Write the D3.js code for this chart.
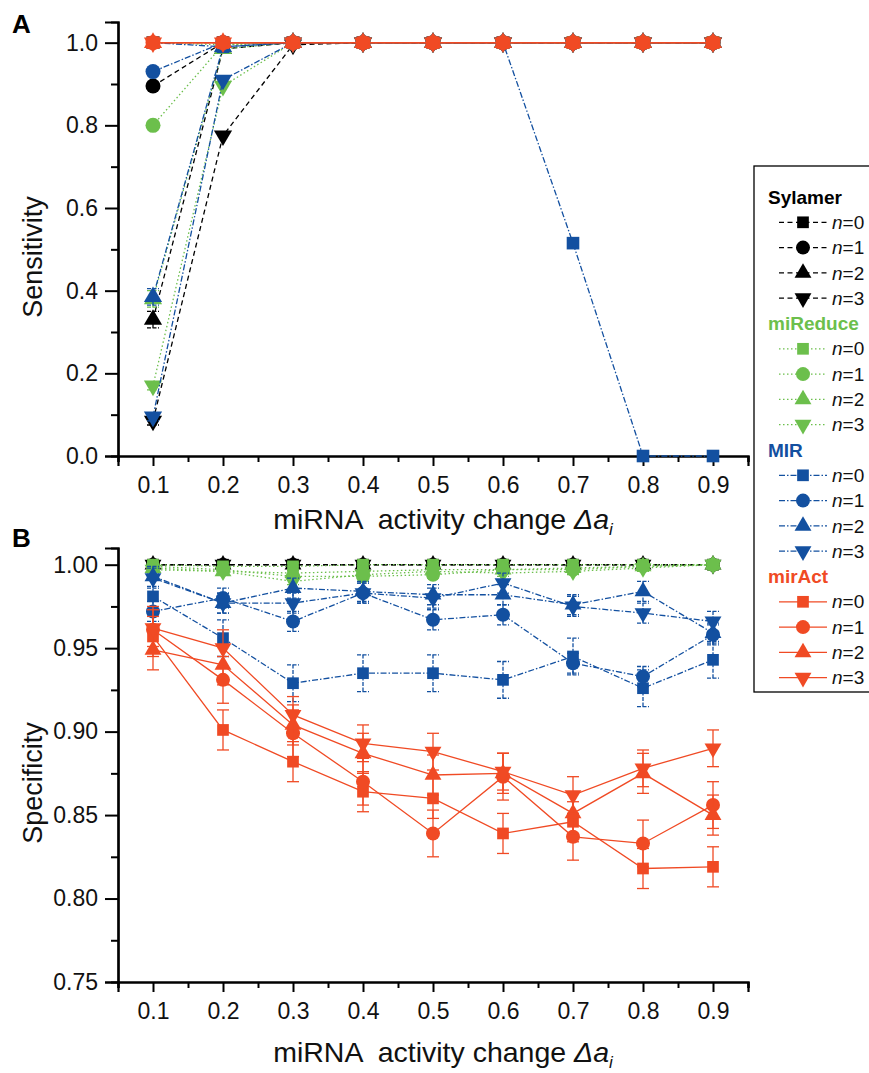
<!DOCTYPE html>
<html>
<head>
<meta charset="utf-8">
<script src="https://cdn.jsdelivr.net/npm/d3@7/dist/d3.min.js"></script>
<style>
body { margin: 0; background: #fff; }
svg { font-family: "Liberation Sans", Arial, sans-serif; }
</style>
</head>
<body>
<script>
// x values (miRNA activity change)
const xValues = [0.1, 0.2, 0.3, 0.4, 0.5, 0.6, 0.7, 0.8, 0.9];
const methods = ["Sylamer", "miReduce", "MIR", "mirAct"];
const nLabels = ["0", "1", "2", "3"];
const methodColors = ["#000000", "#6cbf4c", "#1350a0", "#f04a24"];
const methodDash = ["5,3.5", "1.5,2.5", "6,2,1.5,2", null];
const shapes = ["square", "circle", "triangle", "triangleDown"];

// panel A: sensitivity, one array per n
const sensSylamer = [
    [1, 1, 1, 1, 1, 1, 1, 1, 1],
    [0.895, 1, 1, 1, 1, 1, 1, 1, 1],
    [0.33, 0.985, 1, 1, 1, 1, 1, 1, 1],
    [0.085, 0.775, 0.995, 1, 1, 1, 1, 1, 1]
];
const sensMiReduce = [
    [1, 0.995, 1, 1, 1, 1, 1, 1, 1],
    [0.80, 0.995, 1, 1, 1, 1, 1, 1, 1],
    [0.38, 0.985, 1, 1, 1, 1, 1, 1, 1],
    [0.17, 0.895, 1, 1, 1, 1, 1, 1, 1]
];
const sensMIR = [
    [1, 0.99, 1, 1, 1, 1, 0.515, 0, 0],
    [0.93, 1, 1, 1, 1, 1, 1, 1, 1],
    [0.385, 0.99, 1, 1, 1, 1, 1, 1, 1],
    [0.095, 0.91, 1, 1, 1, 1, 1, 1, 1]
];
const sensMirAct = [
    [1, 1, 1, 1, 1, 1, 1, 1, 1],
    [1, 1, 1, 1, 1, 1, 1, 1, 1],
    [1, 1, 1, 1, 1, 1, 1, 1, 1],
    [1, 1, 1, 1, 1, 1, 1, 1, 1]
];
// sensitivity error bars only show at x = 0.1
const errSensFirst = [
    [0, 0, 0.02, 0.01],
    [0, 0, 0.02, 0.01],
    [0, 0, 0.02, 0.01],
    [0, 0, 0, 0]
];

// panel B: specificity
const specSylamer = [
    [1, 1, 1, 1, 1, 1, 1, 1, 1],
    [1, 1, 1, 1, 1, 1, 1, 1, 1],
    [1, 1, 1, 1, 1, 1, 1, 1, 1],
    [1, 1, 1, 1, 1, 1, 1, 1, 1]
];
const specMiReduce = [
    [1.0, 0.999, 0.999, 1.0, 1.0, 1.0, 1.0, 1.0, 1.0],
    [0.999, 0.997, 0.993, 0.993, 0.994, 0.997, 0.997, 0.999, 1.0],
    [0.998, 0.996, 0.995, 0.996, 0.997, 0.997, 0.998, 0.999, 1.0],
    [0.997, 0.996, 0.990, 0.994, 0.996, 0.995, 0.996, 0.998, 1.0]
];
const specMIR = [
    [0.981, 0.956, 0.929, 0.935, 0.935, 0.931, 0.945, 0.926, 0.943],
    [0.972, 0.980, 0.966, 0.983, 0.967, 0.970, 0.941, 0.933, 0.958],
    [0.993, 0.977, 0.986, 0.984, 0.982, 0.982, 0.976, 0.984, 0.959],
    [0.992, 0.977, 0.977, 0.983, 0.980, 0.989, 0.975, 0.971, 0.966]
];
const specMirAct = [
    [0.957, 0.901, 0.882, 0.864, 0.860, 0.839, 0.846, 0.818, 0.819],
    [0.961, 0.931, 0.899, 0.870, 0.839, 0.873, 0.837, 0.833, 0.856],
    [0.949, 0.940, 0.904, 0.887, 0.874, 0.875, 0.851, 0.875, 0.850],
    [0.962, 0.950, 0.910, 0.893, 0.888, 0.876, 0.862, 0.878, 0.890]
];
// specificity error (same for every point of a series)
const errSpec = [
    [0.001, 0.001, 0.001, 0.001],
    [0.002, 0.002, 0.002, 0.002],
    [0.011, 0.006, 0.006, 0.006],
    [0.012, 0.014, 0.012, 0.011]
];

const sensAll = [sensSylamer, sensMiReduce, sensMIR, sensMirAct];
const specAll = [specSylamer, specMiReduce, specMIR, specMirAct];

const PLOT = { LEFT: 118, RIGHT: 748 };
const WIDTH = 869, HEIGHT = 1073;

var svg = d3.select("body").append("svg")
    .attr("width", WIDTH)
    .attr("height", HEIGHT);

const x = d3.scaleLinear().domain([0.05, 0.95]).range([PLOT.LEFT, PLOT.RIGHT]);

function markerPath(shape, s) {
    if (shape === "square") {
        let q = s * 0.9;
        return `M${-q/2},${-q/2}h${q}v${q}h${-q}Z`;
    }
    if (shape === "circle") {
        let r = s / 2 + 0.5;
        return `M${r},0A${r},${r} 0 1,1 ${-r},0A${r},${r} 0 1,1 ${r},0Z`;
    }
    let w = s * 1.3, h = s * 1.12;
    if (shape === "triangle") {
        return `M0,${-h*2/3}L${w/2},${h/3}L${-w/2},${h/3}Z`;
    }
    return `M0,${h*2/3}L${w/2},${-h/3}L${-w/2},${-h/3}Z`;
}

function drawPanel(cfg) {
    const y = d3.scaleLinear().domain(cfg.yDomain).range([cfg.bottom, cfg.top]);
    const g = svg.append("g");

    // axes
    const yMajor = d3.axisLeft(y).tickValues(cfg.yMajor).tickSize(13).tickPadding(7)
        .tickFormat(d3.format(cfg.fmt));
    const yMinor = d3.axisLeft(y).tickValues(cfg.yMinor).tickSize(7).tickFormat("");
    const xMajor = d3.axisBottom(x).tickValues(xValues).tickSize(10).tickPadding(11)
        .tickFormat(d3.format(".1f"));
    const xMinor = d3.axisBottom(x).tickValues([0.05, 0.15, 0.25, 0.35, 0.45, 0.55, 0.65, 0.75, 0.85, 0.95])
        .tickSize(6).tickFormat("");

    [ [yMinor, `translate(${PLOT.LEFT},0)`], [yMajor, `translate(${PLOT.LEFT},0)`],
      [xMinor, `translate(0,${cfg.bottom})`], [xMajor, `translate(0,${cfg.bottom})`] ]
        .forEach(([ax, tr]) => {
            const a = g.append("g").attr("transform", tr).call(ax);
            a.selectAll("path.domain").attr("stroke", "#000").attr("stroke-width", 2.2);
            a.selectAll(".tick line").attr("stroke", "#000").attr("stroke-width", 2);
            a.selectAll("text").attr("font-size", 23).attr("fill", "#111")
                .attr("font-family", "Liberation Sans, Arial, sans-serif");
        });

    // series: Sylamer, miReduce, MIR, mirAct (mirAct on top)
    const line = d3.line().x((d, i) => x(xValues[i])).y(d => y(d));
    cfg.data.forEach((method, m) => {
        method.forEach((vals, n) => {
            const col = methodColors[m];
            const sg = g.append("g");
            sg.append("path")
                .attr("d", line(vals))
                .attr("fill", "none")
                .attr("stroke", col)
                .attr("stroke-width", 1.3)
                .attr("stroke-dasharray", methodDash[m]);

            const errs = vals.map((v, i) => cfg.err(m, n, i));
            vals.forEach((v, i) => {
                const e = errs[i];
                if (!e) return;
                const cx = x(xValues[i]);
                const eb = sg.append("g")
                    .attr("stroke", col)
                    .attr("stroke-width", 1.3)
                    .attr("stroke-dasharray", m < 3 ? "4,1.5" : null);
                eb.append("line").attr("x1", cx).attr("x2", cx).attr("y1", y(v - e)).attr("y2", y(v + e));
                eb.append("line").attr("x1", cx - 6).attr("x2", cx + 6).attr("y1", y(v + e)).attr("y2", y(v + e));
                eb.append("line").attr("x1", cx - 6).attr("x2", cx + 6).attr("y1", y(v - e)).attr("y2", y(v - e));
            });

            sg.selectAll("path.mk")
                .data(vals)
                .enter()
                .append("path")
                .attr("class", "mk")
                .attr("transform", (d, i) => `translate(${x(xValues[i])},${y(d)})`)
                .attr("d", markerPath(shapes[n], cfg.markerSize))
                .attr("fill", col);
        });
    });

    // titles
    g.append("text")
        .attr("transform", `translate(${cfg.yTitleX},${(cfg.top + cfg.bottom) / 2 + 18}) rotate(-90)`)
        .attr("text-anchor", "middle")
        .attr("font-size", 27)
        .attr("fill", "#111")
        .text(cfg.yTitle);

    const xt = g.append("text")
        .attr("x", 443)
        .attr("y", cfg.xTitleY)
        .attr("text-anchor", "middle")
        .attr("font-size", 28.5)
        .attr("fill", "#111")
        .style("white-space", "pre");
    xt.append("tspan").text("miRNA  activity change ");
    xt.append("tspan").attr("font-style", "italic").text("\u0394a");
    xt.append("tspan").attr("font-style", "italic").attr("font-size", 17).attr("dy", 6).text("i");

    g.append("text")
        .attr("x", 12)
        .attr("y", cfg.labelY)
        .attr("font-size", 26)
        .attr("font-weight", "bold")
        .attr("fill", "#000")
        .text(cfg.label);
}

drawPanel({
    label: "A", labelY: 33,
    top: 22, bottom: 456,
    yDomain: [0, 1.05],
    yMajor: [0, 0.2, 0.4, 0.6, 0.8, 1.0],
    yMinor: [0.1, 0.3, 0.5, 0.7, 0.9],
    fmt: ".1f",
    yTitle: "Sensitivity", yTitleX: 42,
    xTitleY: 529,
    markerSize: 14,
    data: sensAll,
    err: (m, n, i) => i === 0 ? errSensFirst[m][n] : 0
});

drawPanel({
    label: "B", labelY: 547,
    top: 548, bottom: 982,
    yDomain: [0.75, 1.01],
    yMajor: [0.75, 0.80, 0.85, 0.90, 0.95, 1.00],
    yMinor: [0.775, 0.825, 0.875, 0.925, 0.975],
    fmt: ".2f",
    yTitle: "Specificity", yTitleX: 42,
    xTitleY: 1062,
    markerSize: 13,
    data: specAll,
    err: (m, n, i) => errSpec[m][n]
});

// legend
const LEG = { X: 754, Y: 166, W: 130, H: 526, ROW0: 197, ROW: 25.3 };
const leg = svg.append("g");
leg.append("rect")
    .attr("x", LEG.X).attr("y", LEG.Y)
    .attr("width", LEG.W).attr("height", LEG.H)
    .attr("fill", "#fff")
    .attr("stroke", "#000")
    .attr("stroke-width", 1.3);

methods.forEach((name, m) => {
    const col = methodColors[m];
    const hy = LEG.ROW0 + LEG.ROW * m * 5;
    leg.append("text")
        .attr("x", 768).attr("y", hy)
        .attr("dy", "0.35em")
        .attr("font-size", 19)
        .attr("font-weight", "bold")
        .attr("fill", col)
        .text(name);
    nLabels.forEach((nl, n) => {
        const ry = hy + LEG.ROW * (n + 1);
        leg.append("line")
            .attr("x1", 779).attr("x2", 827)
            .attr("y1", ry).attr("y2", ry)
            .attr("stroke", col)
            .attr("stroke-width", 1.3)
            .attr("stroke-dasharray", methodDash[m]);
        leg.append("path")
            .attr("transform", `translate(803,${ry})`)
            .attr("d", markerPath(shapes[n], 13))
            .attr("fill", col);
        const t = leg.append("text")
            .attr("x", 832).attr("y", ry)
            .attr("dy", "0.35em")
            .attr("font-size", 19)
            .attr("fill", "#111");
        t.append("tspan").attr("font-style", "italic").text("n");
        t.append("tspan").text("=" + nl);
    });
});
</script>
</body>
</html>
